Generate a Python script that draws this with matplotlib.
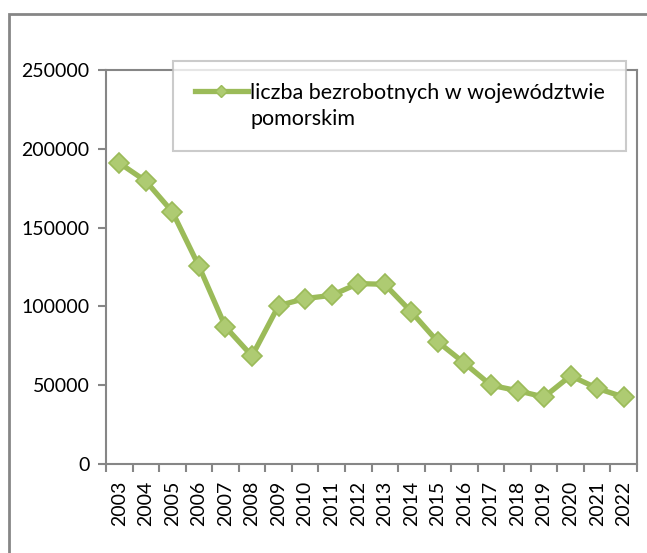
import matplotlib
matplotlib.use("Agg")
import matplotlib.pyplot as plt
from matplotlib.lines import Line2D
from matplotlib.patches import Rectangle

years = ["2003", "2004", "2005", "2006", "2007", "2008", "2009", "2010", "2011", "2012",
         "2013", "2014", "2015", "2016", "2017", "2018", "2019", "2020", "2021", "2022"]
unemployed = [191000, 179500, 160000, 125500, 87000, 68500, 100500, 105000, 107000, 114500,
              114000, 96500, 77500, 64000, 50000, 46500, 42500, 56000, 48000, 42500]
label_lines = ["liczba bezrobotnych w województwie", "pomorskim"]

plt.rcParams["font.family"] = ["Lato", "DejaVu Sans"]
W, H = 647, 553
fig = plt.figure(figsize=(W / 100, H / 100), dpi=100)

# outer chart border
fig.patches.append(Rectangle((9 / W, -0.1), 1.2, 1 - 14 / H + 0.1, transform=fig.transFigure,
                             fill=False, edgecolor="#868686", linewidth=2))

ax = fig.add_axes([106 / W, (H - 464) / H, (637 - 106) / W, (464 - 70) / H])
x = list(range(len(years)))
line, = ax.plot(x, unemployed, color="#9BBB59", linewidth=3.8, marker="D", markersize=10.5,
                markerfacecolor="#AECB72", markeredgecolor="#9BBB59", markeredgewidth=1.2)

ax.set_xlim(-0.5, len(years) - 0.5)
ax.set_ylim(0, 250000)
ax.set_yticks(range(0, 250001, 50000))
ax.set_yticklabels([str(v) for v in range(0, 250001, 50000)], fontsize=14)
ax.set_xticks(x)
ax.set_xticklabels(years, rotation=90, fontsize=14)
ax.set_xticks([i - 0.5 for i in range(len(years) + 1)], minor=True)
ax.tick_params(axis="x", which="major", length=0, pad=12)
ax.tick_params(axis="x", which="minor", length=6, width=1.5, color="#868686")
ax.tick_params(axis="y", length=6, width=1.5, color="#868686", pad=6)
for s in ax.spines.values():
    s.set_color("#868686")
    s.set_linewidth(1.5)

# legend: handle aligned with the first text line, second line without a handle
handle = Line2D([], [], color="#9BBB59", linewidth=3.8, marker="D", markersize=6,
                markerfacecolor="#AECB72", markeredgecolor="#9BBB59")
blank = Line2D([], [], linestyle="none")
leg = ax.legend([handle, blank], label_lines, loc="upper left",
                bbox_to_anchor=(173 / W, 1 - 61 / H, (626 - 173) / W, 0.0),
                bbox_transform=fig.transFigure, mode="expand", fontsize=15.5, frameon=True,
                fancybox=False, edgecolor="#BFBFBF", handlelength=2.5, handletextpad=0.1,
                borderpad=1.0, labelspacing=0.3, borderaxespad=0)
leg.get_frame().set_linewidth(1.5)

fig.savefig("out.png", dpi=100)
